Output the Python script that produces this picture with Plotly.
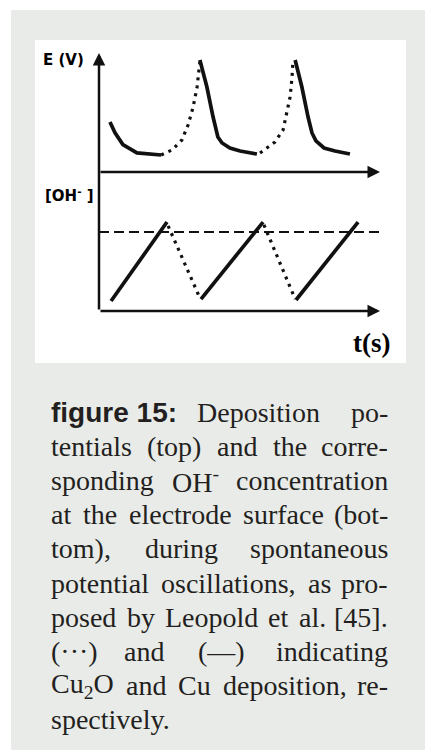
import plotly.graph_objects as go

W, H = 425, 751

# ---- Potential transient E(t), split into Cu2O (dotted) and Cu (solid) stages ----
e_cu_1_t = [0.39, 0.57, 0.85, 1.35, 2.21]
e_cu_1_v = [0.42, 0.33, 0.23, 0.16, 0.143]
e_ox_1_t = [2.21, 2.60, 2.95, 3.17, 3.35, 3.49, 3.59]
e_ox_1_v = [0.143, 0.185, 0.269, 0.395, 0.546, 0.714, 0.924]
e_cu_2_t = [3.59, 3.84, 4.06, 4.23, 4.38, 4.66, 5.02, 5.62]
e_cu_2_v = [0.941, 0.714, 0.462, 0.294, 0.244, 0.202, 0.176, 0.151]
e_ox_2_t = [5.73, 5.98, 6.26, 6.55, 6.69, 6.80, 6.87, 6.90]
e_ox_2_v = [0.160, 0.202, 0.252, 0.353, 0.496, 0.630, 0.798, 0.924]
e_cu_3_t = [6.98, 7.22, 7.44, 7.58, 7.72, 8.01, 8.40, 8.93]
e_cu_3_v = [0.941, 0.714, 0.462, 0.328, 0.261, 0.202, 0.176, 0.151]

# ---- Surface OH- concentration ----
oh_cu_1_t = [0.43, 2.42]
oh_cu_1_v = [0.072, 0.640]
oh_ox_1_t = [2.46, 3.59]
oh_ox_1_v = [0.612, 0.094]
oh_cu_2_t = [3.63, 5.84]
oh_cu_2_v = [0.086, 0.640]
oh_ox_2_t = [5.87, 6.98]
oh_ox_2_v = [0.619, 0.086]
oh_cu_3_t = [7.01, 9.22]
oh_cu_3_v = [0.079, 0.640]
oh_crit_t = [0.0, 10.0]
oh_crit_v = [0.568, 0.568]

# ---- Caption text, one list of words per line (last line is not justified) ----
caption_lines = [
    ["figure 15:", "Deposition", "po-"],
    ["tentials", "(top)", "and", "the", "corre-"],
    ["sponding", "OH<sup>-</sup>", "concentration"],
    ["at", "the", "electrode", "surface", "(bot-"],
    ["tom),", "during", "spontaneous"],
    ["potential", "oscillations,", "as", "pro-"],
    ["posed", "by", "Leopold", "et", "al.", "[45]."],
    ["(\u00b7\u00b7\u00b7)", "and", "(\u2014)", "indicating"],
    ["Cu<sub>2</sub>O", "and", "Cu", "deposition,", "re-"],
    ["spectively."],
]

# Times-compatible advance widths (1/1000 em) for the serif caption font
SERIF_W = {
    " ": 250, "(": 333, ")": 333, ",": 250, "-": 333, ".": 250, ":": 278,
    "[": 333, "]": 333, "\u00b7": 250, "\u2014": 1000,
    "0": 500, "1": 500, "2": 500, "3": 500, "4": 500, "5": 500,
    "C": 667, "D": 722, "H": 722, "L": 611, "O": 722,
    "a": 444, "b": 500, "c": 444, "d": 500, "e": 444, "f": 333, "g": 500,
    "h": 500, "i": 278, "l": 278, "m": 778, "n": 500, "o": 500, "p": 500,
    "r": 333, "s": 389, "t": 278, "u": 500, "v": 500, "w": 722, "y": 500,
}
# Helvetica-Bold compatible widths for the bold lead-in
SANS_BOLD_W = {"f": 333, "i": 278, "g": 611, "u": 611, "r": 389, "e": 556,
               " ": 278, "1": 556, "5": 556, ":": 333}

CAP_SIZE = 28
LEFT, RIGHT = 50, 389
FIRST_BASELINE, LINE_STEP = 422, 34.2
LEAD_GAP = 20  # fixed space after the bold lead-in


def word_width(word, bold):
    table = SANS_BOLD_W if bold else SERIF_W
    total, scale, i = 0.0, 1.0, 0
    while i < len(word):
        if word.startswith("<sup>", i) or word.startswith("<sub>", i):
            scale, i = 0.7, i + 5
            continue
        if word.startswith("</sup>", i) or word.startswith("</sub>", i):
            scale, i = 1.0, i + 6
            continue
        total += table.get(word[i], 500) * scale
        i += 1
    return total / 1000 * CAP_SIZE


def px(x):
    return x / W


def py(y):
    return 1 - y / H


INK = "#111111"
TEXT = "#231f20"
SOLID = dict(color=INK, width=3.7)
DOTTED = dict(color=INK, width=3.2, dash="3px,5px")

fig = go.Figure()


def add(t, v, line, yaxis):
    fig.add_trace(go.Scatter(x=t, y=v, mode="lines", line=line, xaxis="x",
                             yaxis=yaxis, hoverinfo="skip", showlegend=False,
                             cliponaxis=False))


add(oh_crit_t, oh_crit_v, dict(color=INK, width=2, dash="10px,5px"), "y2")

for t, v in [(e_cu_1_t, e_cu_1_v), (e_cu_2_t, e_cu_2_v), (e_cu_3_t, e_cu_3_v)]:
    add(t, v, SOLID, "y")
for t, v in [(e_ox_1_t, e_ox_1_v), (e_ox_2_t, e_ox_2_v)]:
    add(t, v, DOTTED, "y")
for t, v in [(oh_cu_1_t, oh_cu_1_v), (oh_cu_2_t, oh_cu_2_v), (oh_cu_3_t, oh_cu_3_v)]:
    add(t, v, SOLID, "y2")
for t, v in [(oh_ox_1_t, oh_ox_1_v), (oh_ox_2_t, oh_ox_2_v)]:
    add(t, v, DOTTED, "y2")

annotations = []

# axes drawn as arrows
axis_arrow = dict(showarrow=True, arrowhead=2, arrowsize=1.0, arrowwidth=2.5,
                  arrowcolor=INK, text="", standoff=0)
annotations.append(dict(axis_arrow, x=0, y=1, xref="x", yref="y",
                        ax=0, ay=258))
annotations.append(dict(axis_arrow, x=10, y=0, xref="x", yref="y",
                        ax=-281, ay=0))
annotations.append(dict(axis_arrow, x=10, y=0, xref="x", yref="y2",
                        ax=-281, ay=0))

label_font = dict(family="DejaVu Sans", size=15, color="#000000")
annotations.append(dict(text="<b>E (V)</b>", x=px(63.5), y=py(60),
                        xref="paper", yref="paper", showarrow=False,
                        xanchor="center", yanchor="middle", font=label_font))
annotations.append(dict(text="<b>[OH<sup>-</sup> ]</b>", x=px(69), y=py(195),
                        xref="paper", yref="paper", showarrow=False,
                        xanchor="center", yanchor="middle", font=label_font))
annotations.append(dict(text="<b>t(s)</b>", x=px(392), y=py(343),
                        xref="paper", yref="paper", showarrow=False,
                        xanchor="right", yanchor="middle",
                        font=dict(family="Liberation Serif, Times New Roman, serif",
                                  size=27, color="#000000")))

# justified caption
serif = dict(family="Liberation Serif, Times New Roman, serif", size=CAP_SIZE,
             color=TEXT)
sans_bold = dict(family="Liberation Sans, Arial, sans-serif", size=CAP_SIZE,
                 color=TEXT)
n_lines = len(caption_lines)
for i, words in enumerate(caption_lines):
    yc = FIRST_BASELINE + i * LINE_STEP - 10
    bold_flags = [i == 0 and j == 0 for j in range(len(words))]
    widths = [word_width(w, b) for w, b in zip(words, bold_flags)]
    justify = i < n_lines - 1 and len(words) > 1
    x = LEFT
    if i == 0:
        # bold lead-in followed by a normal gap, the rest is spread out
        gaps = [LEAD_GAP]
        rest = (RIGHT - LEFT - sum(widths) - LEAD_GAP) / max(len(words) - 2, 1)
        gaps += [rest] * (len(words) - 2)
    elif justify:
        g = (RIGHT - LEFT - sum(widths)) / (len(words) - 1)
        gaps = [g] * (len(words) - 1)
    else:
        gaps = [SERIF_W[" "] / 1000 * CAP_SIZE] * max(len(words) - 1, 0)
    gaps.append(0)
    for j, (w, b, wd) in enumerate(zip(words, bold_flags, widths)):
        txt = f"<b>{w}</b>" if b else w
        if justify and j == len(words) - 1:
            pos = dict(x=px(RIGHT), xanchor="right")
        else:
            pos = dict(x=px(x), xanchor="left")
        annotations.append(dict(pos, text=txt, y=py(yc), xref="paper",
                                yref="paper", yanchor="middle",
                                showarrow=False, borderpad=0,
                                font=sans_bold if b else serif))
        x += wd + gaps[j]

shapes = [
    dict(type="rect", xref="paper", yref="paper", x0=px(11), x1=1.0,
         y0=py(750), y1=py(10), fillcolor="rgb(233,235,232)",
         line=dict(width=0), layer="below"),
    dict(type="rect", xref="paper", yref="paper", x0=px(35), x1=px(406),
         y0=py(363), y1=py(40), fillcolor="#ffffff",
         line=dict(width=0), layer="below"),
]

hidden = dict(visible=False, fixedrange=True)
fig.update_layout(
    width=W, height=H,
    margin=dict(l=0, r=0, t=0, b=0),
    paper_bgcolor="#ffffff", plot_bgcolor="rgba(0,0,0,0)",
    xaxis=dict(hidden, domain=[px(99), px(380)], range=[0, 10]),
    yaxis=dict(hidden, domain=[py(172), py(53)], range=[0, 1]),
    yaxis2=dict(hidden, domain=[py(311), py(172)], range=[0, 1]),
    shapes=shapes,
    annotations=annotations,
    showlegend=False,
)

fig.write_html("out.html")
